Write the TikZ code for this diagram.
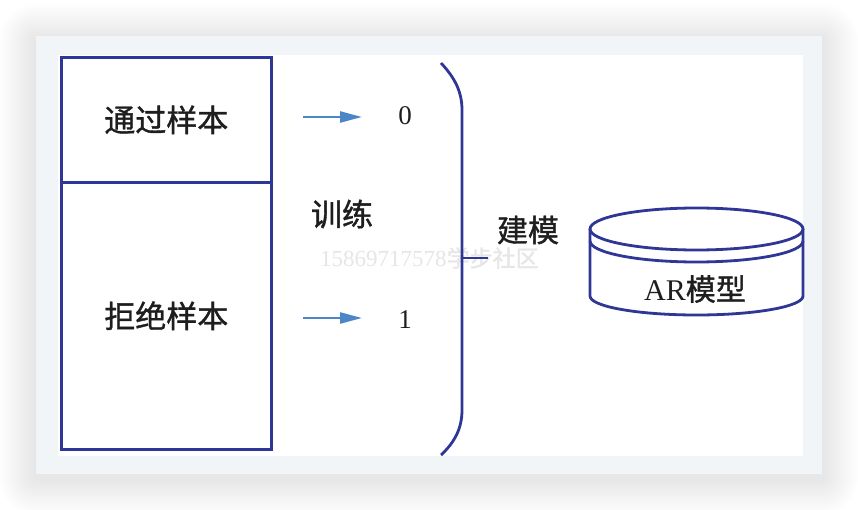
\documentclass[tikz,border=0pt]{standalone}
\usepackage{fontspec}
\setmainfont{Liberation Serif}
\newfontfamily\cjk{Noto Sans CJK SC}[FakeBold=1.2]
\usetikzlibrary{arrows.meta}
\definecolor{navy}{RGB}{46,54,150}
\definecolor{arrowblue}{RGB}{74,134,200}
\definecolor{pale}{RGB}{242,245,248}
\definecolor{wmark}{RGB}{230,230,230}
\definecolor{ink}{RGB}{30,30,30}
\tikzset{
  box/.style={draw=navy, line width=2.6pt, minimum width=210pt, anchor=north west, inner sep=0pt,
              text=ink, font=\cjk\fontsize{31}{36}\selectfont},
  cjklabel/.style={inner sep=0pt, text=ink, font=\cjk\fontsize{31}{36}\selectfont},
  numlabel/.style={inner sep=0pt, text=ink, font=\fontsize{27}{30}\selectfont},
  arr/.style={arrowblue, line width=2.4pt, -{Triangle[length=22pt,width=11pt]}},
  navyline/.style={navy, line width=2.8pt},
  shadowlayer/.style={fill=black, fill opacity=0.009},
}
\begin{document}
\begin{tikzpicture}[x=1pt,y=-1pt]
\useasboundingbox (0,0) rectangle (858,510);
\fill[white] (0,0) rectangle (858,510);
% soft shadow round the frame
\foreach \d in {3,6,...,36} {
  \fill[shadowlayer, rounded corners=\d pt] (36-\d,40-\d) rectangle (822+\d,478+\d);
}
% frame
\fill[pale] (36,36) rectangle (822,474);
\fill[white] (58,55) rectangle (803,456);
% watermark
\node[inner sep=0pt, text=wmark, font=\fontsize{23}{25}\selectfont, anchor=west] (wm) at (320,258) {15869717578{\cjk 学步社区}};
% left boxes
\node[box, minimum height=125pt] (pass) at (60,56) {通过样本};
\node[box, minimum height=267pt] (reject) at (60,181) {拒绝样本};
% arrows and labels
\node[numlabel] (zero) at (405,116) {0};
\node[numlabel] (one) at (405,320) {1};
\coordinate (a0s) at (303,117);
\coordinate (a0e) at (362,117);
\coordinate (a1s) at (303,318);
\coordinate (a1e) at (362,318);
\draw[arr] (a0s) -- (a0e);
\draw[arr] (a1s) -- (a1e);
\node[cjklabel] (train) at (342,214) {训练};
% brace
\coordinate (bt) at (441,63);
\coordinate (bb) at (441,455);
\coordinate (bm) at (462,258);
\coordinate (tick) at (488,258);
\draw[navyline] (bt) .. controls (455,78) and (462,92) .. (462,110) -- (462,410) .. controls (462,428) and (455,442) .. (bb);
\draw[navyline] (bm) -- (tick);
\node[cjklabel] (model) at (528,230) {建模};
% cylinder
\draw[navyline] (696.5,229) ellipse [x radius=106.5pt, y radius=21pt];
\draw[navyline] (590,241) arc [start angle=180, end angle=360, x radius=106.5pt, y radius=21pt];
\draw[navyline] (590,229) -- (590,296) arc [start angle=180, end angle=360, x radius=106.5pt, y radius=19pt] -- (803,229);
\node[inner sep=0pt, text=ink, font=\fontsize{30}{34}\selectfont] (ar) at (695,289) {AR{\cjk 模型}};
\end{tikzpicture}
\end{document}
